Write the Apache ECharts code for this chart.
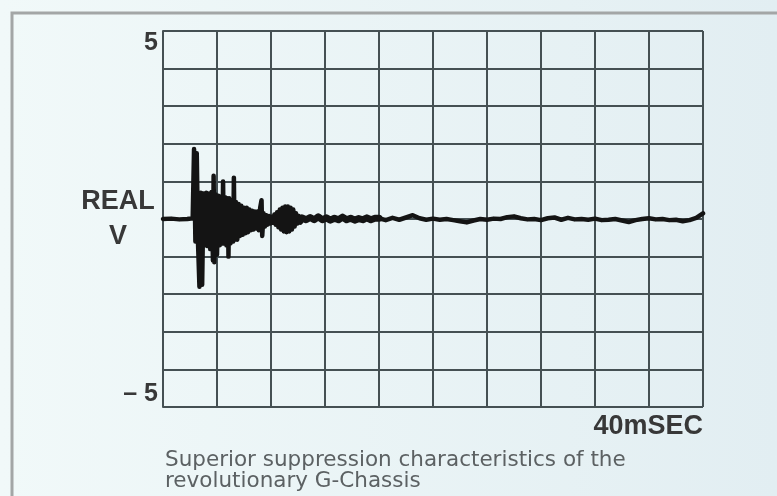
<!DOCTYPE html>
<html>
<head>
<meta charset="utf-8">
<script src="https://cdn.jsdelivr.net/npm/echarts@6/dist/echarts.min.js"></script>
<style>
  html, body { margin: 0; padding: 0; }
  #main { width: 777px; height: 496px; }
</style>
</head>
<body>
<div id="main"></div>
<script>
// time in mSEC, value in volts
var quietStart = [[0, 0], [0.6, 0.01], [1.2, -0.01], [1.8, 0], [2.2, 0.02]];

var burst = [
    [2.3, 1.86], [2.4, -0.6], [2.5, 1.75], [2.6, -0.7], [2.7, -1.8], [2.8, 0.7],
    [2.9, -1.75], [3.0, 0.68], [3.1, -0.7], [3.2, 0.7], [3.3, -0.72], [3.4, 0.68],
    [3.5, -0.8], [3.6, 0.72], [3.7, -1.1], [3.75, 1.15], [3.8, -1.15], [3.9, 0.65],
    [4.0, -0.95], [4.1, 0.62], [4.2, -0.7], [4.3, 0.6], [4.4, -0.65], [4.45, 1.0],
    [4.5, -0.65], [4.6, 0.58], [4.7, -0.7], [4.8, 0.55], [4.85, -1.0], [4.9, 0.55],
    [5.0, -0.65], [5.1, 0.5], [5.2, -0.6], [5.25, 1.1], [5.3, -0.55], [5.4, 0.45],
    [5.5, -0.55], [5.6, 0.4], [5.7, -0.45], [5.8, 0.35], [5.9, -0.42], [6.0, 0.3],
    [6.1, -0.38], [6.2, 0.3], [6.3, -0.35], [6.4, 0.25], [6.5, -0.3], [6.6, 0.22],
    [6.7, -0.28], [6.8, 0.2], [6.9, -0.25], [7.0, 0.2], [7.1, -0.3], [7.2, 0.3],
    [7.3, 0.5], [7.35, -0.45], [7.45, 0.15], [7.55, -0.2], [7.65, 0.1], [7.75, -0.15],
    [7.85, 0.08], [7.95, -0.12], [8.05, 0.06]
];

var ringdown = [
    [8.15, -0.1], [8.25, 0.12], [8.35, -0.15], [8.45, 0.18], [8.55, -0.22], [8.65, 0.25],
    [8.75, -0.28], [8.85, 0.3], [8.95, -0.33], [9.05, 0.33], [9.15, -0.35], [9.25, 0.33],
    [9.35, -0.33], [9.45, 0.3], [9.55, -0.28], [9.65, 0.25], [9.75, -0.2], [9.85, 0.15],
    [9.95, -0.12], [10.05, 0.08], [10.15, -0.06]
];

var settle = [
    [10.3, 0.03], [10.6, -0.02], [10.9, 0.04], [11.2, -0.02], [11.5, 0.06], [11.8, -0.02],
    [12.1, 0.03], [12.4, -0.03], [12.7, 0.02], [13.0, -0.02], [13.3, 0.05], [13.6, -0.02],
    [13.9, 0.02], [14.2, -0.03], [14.5, 0.01], [14.8, -0.02], [15.1, 0.03], [15.4, -0.02],
    [15.7, 0.02]
];

var tail = [
    [16.0, 0.02], [16.5, -0.03], [17.0, 0.03], [17.5, -0.02], [18.0, 0.04], [18.5, 0.1],
    [19.0, 0.02], [19.5, -0.02], [20.0, 0.01], [20.5, -0.02], [21.0, 0.0], [21.5, -0.03],
    [22.0, -0.06], [22.5, -0.09], [23.0, -0.04], [23.5, 0.0], [24.0, -0.02], [24.5, 0.01],
    [25.0, 0.0], [25.5, 0.05], [26.0, 0.07], [26.5, 0.02], [27.0, -0.01], [27.5, 0.0],
    [28.0, -0.03], [28.5, 0.02], [29.0, 0.04], [29.5, -0.02], [30.0, 0.03], [30.5, -0.01],
    [31.0, 0.0], [31.5, -0.02], [32.0, 0.01], [32.5, -0.03], [33.0, -0.02], [33.5, 0.0],
    [34.0, -0.04], [34.5, -0.08], [35.0, -0.03], [35.5, 0.0], [36.0, 0.02], [36.5, -0.01],
    [37.0, 0.0], [37.5, -0.03], [38.0, -0.02], [38.5, -0.06], [39.0, -0.03], [39.5, 0.03],
    [40.0, 0.15]
];

var xLabel = '40mSEC';
var yName = 'REAL\nV';
var caption = 'Superior suppression characteristics of the\nrevolutionary G-Chassis';

var gridColor = '#455053';
var font = 'Liberation Sans';
var traceStyle = { color: '#141414', width: 4.5, join: 'round', cap: 'round' };

var option = {
    animation: false,
    backgroundColor: {
        type: 'linear', x: 0, y: 0, x2: 1, y2: 0,
        colorStops: [{ offset: 0, color: '#f1f9f9' }, { offset: 1, color: '#e2eef2' }]
    },
    title: {
        text: caption,
        left: 160,
        top: 445,
        textStyle: { fontFamily: 'DejaVu Sans', fontSize: 21.5, fontWeight: 'normal', lineHeight: 21, color: '#5c6163' }
    },
    graphic: [
        {
            type: 'rect',
            shape: { x: 12, y: 13, width: 800, height: 520 },
            style: { fill: 'none', stroke: '#a3a6a6', lineWidth: 3 },
            silent: true
        }
    ],
    grid: { left: 163, right: 74, top: 31, bottom: 89 },
    xAxis: {
        type: 'value',
        min: 0,
        max: 40,
        interval: 4,
        axisLine: { show: true, lineStyle: { color: gridColor, width: 2 } },
        axisTick: { show: false },
        splitLine: { show: true, lineStyle: { color: gridColor, width: 2 } },
        axisLabel: {
            showMaxLabel: true,
            align: 'right',
            margin: 6,
            fontFamily: font,
            fontWeight: 'bold',
            fontSize: 27,
            color: '#383838',
            formatter: function (v) { return v === 40 ? xLabel : ''; }
        }
    },
    yAxis: [
        {
            type: 'value',
            min: -5,
            max: 5,
            interval: 1,
            name: yName,
            nameLocation: 'middle',
            nameRotate: 0,
            nameGap: 45,
            nameMoveOverlap: false,
            nameTextStyle: {
                fontFamily: font, fontWeight: 'bold', fontSize: 27, color: '#383838',
                align: 'center', verticalAlign: 'middle', lineHeight: 35, padding: [12, 0, 0, 0]
            },
            axisLine: { show: true, lineStyle: { color: gridColor, width: 2 } },
            axisTick: { show: false },
            splitLine: { show: true, lineStyle: { color: gridColor, width: 2 } },
            axisLabel: {
                showMaxLabel: true,
                verticalAlign: 'top',
                margin: 5,
                fontFamily: font,
                fontWeight: 'bold',
                fontSize: 25,
                color: '#383838',
                formatter: function (v) { return v === 5 ? '5' : ''; }
            }
        },
        {
            type: 'value',
            position: 'left',
            min: -5,
            max: 5,
            interval: 1,
            axisLine: { show: false },
            axisTick: { show: false },
            splitLine: { show: false },
            axisLabel: {
                showMinLabel: true,
                verticalAlign: 'bottom',
                margin: 5,
                fontFamily: font,
                fontWeight: 'bold',
                fontSize: 25,
                color: '#383838',
                formatter: function (v) { return v === -5 ? '\u2013 5' : ''; }
            }
        }
    ],
    series: [
        {
            type: 'line',
            data: quietStart.concat(burst, ringdown, [settle[0]]),
            showSymbol: false,
            silent: true,
            lineStyle: traceStyle
        },
        {
            type: 'line',
            data: [ringdown[ringdown.length - 1]].concat(settle, [tail[0]]),
            showSymbol: false,
            silent: true,
            lineStyle: { color: '#141414', width: 7, join: 'round', cap: 'round' }
        },
        {
            type: 'line',
            data: tail,
            showSymbol: false,
            silent: true,
            lineStyle: traceStyle
        }
    ]
};

var myChart = echarts.init(document.getElementById('main'));
myChart.setOption(option);
</script>
</body>
</html>
